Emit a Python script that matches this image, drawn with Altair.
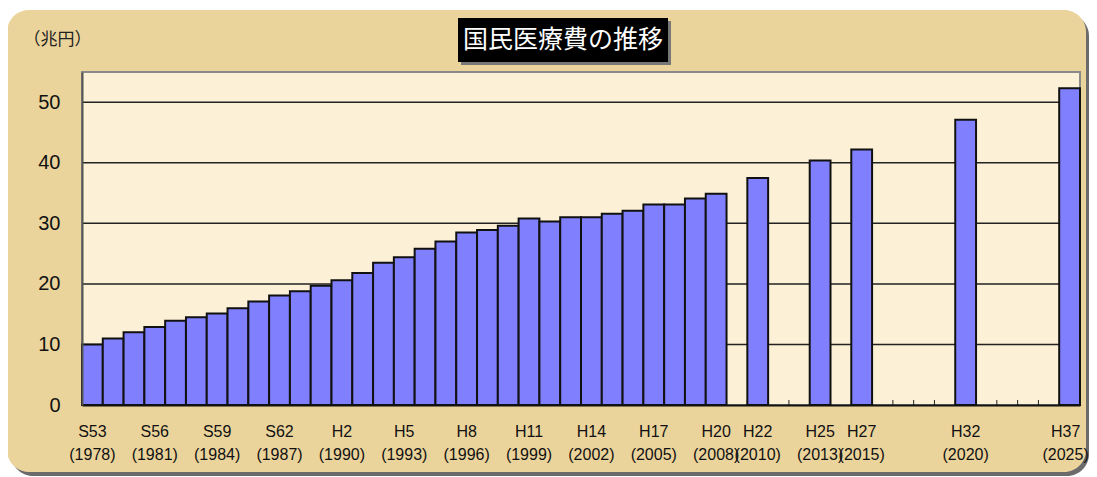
import altair as alt
import pandas as pd

# ---- data ----
years = list(range(1978, 2009)) + [2010, 2013, 2015, 2020, 2025]
values = [10.0, 11.0, 12.0, 12.9, 13.9, 14.5, 15.1, 16.0, 17.1, 18.1, 18.8,
          19.7, 20.6, 21.8, 23.5, 24.4, 25.8, 27.0, 28.5, 28.9, 29.6, 30.8,
          30.3, 31.0, 31.0, 31.6, 32.1, 33.1, 33.1, 34.1, 34.9,
          37.5, 40.4, 42.2, 47.1, 52.3]
axis_years = list(range(1978, 2026))
label_years = [1978, 1981, 1984, 1987, 1990, 1993, 1996, 1999, 2002, 2005,
               2008, 2010, 2013, 2015, 2020, 2025]
era_labels = ["S53", "S56", "S59", "S62", "H2", "H5", "H8", "H11", "H14",
              "H17", "H20", "H22", "H25", "H27", "H32", "H37"]
y_ticks = [0, 10, 20, 30, 40, 50]
grid_vals = [10, 20, 30, 40, 50]
title_text = "国民医療費の推移"
unit_text = "（兆円）"

W, H = 998, 333
df = pd.DataFrame({"year": years, "value": values})
one = pd.DataFrame({"k": [0]})

yrs_js = "[" + ",".join(str(y) for y in label_years) + "]"
eras_js = "[" + ",".join(f"'{e}'" for e in era_labels) + "]"
label_expr = (f"indexof({yrs_js}, datum.value) < 0 ? '' : "
              f"[{eras_js}[indexof({yrs_js}, datum.value)], '(' + datum.label + ')']")

xscale = alt.Scale(domain=axis_years, paddingInner=0, paddingOuter=0)
yscale = alt.Scale(domain=[0, 55], nice=False)

x_axis = alt.Axis(labelExpr=label_expr, labelAngle=0, labelOverlap=False,
                  ticks=False, domainColor="#111111", domainWidth=2,
                  labelFont="Liberation Sans", labelFontSize=16,
                  labelColor="#111111", labelLineHeight=23,
                  labelPadding=18, labelBound=False,
                  labelOffset={"condition": {"test": f"datum.value == {axis_years[-1]}",
                                             "value": -4}, "value": 0},
                  zindex=1)
y_axis = alt.Axis(values=y_ticks, grid=False, ticks=False,
                  domainColor="#555555", domainWidth=2,
                  labelFont="Liberation Sans", labelFontSize=20,
                  labelColor="#111111", labelPadding=22,
                  titleAngle=0, titleX=-59, titleY=-33,
                  titleAlign="left", titleBaseline="middle",
                  titleFont="Noto Sans CJK JP", titleFontSize=17,
                  titleFontWeight="normal", titleColor="#222222",
                  zindex=1)

# decorative background box with shadow
shadow = alt.Chart(one).mark_rect(cornerRadius=22, color="#3a3a3a", opacity=0.75).encode(
    x=alt.value(-71), x2=alt.value(1007), y=alt.value(-58), y2=alt.value(404))
box = alt.Chart(one).mark_rect(cornerRadius=22, color="#EBD49C").encode(
    x=alt.value(-75), x2=alt.value(1004), y=alt.value(-62), y2=alt.value(400))
plotbg = alt.Chart(one).mark_rect(color="#FCF1D6", stroke="#8a8a8a", strokeWidth=2).encode(
    x=alt.value(0), x2=alt.value(W), y=alt.value(0), y2=alt.value(H))

grid = alt.Chart(pd.DataFrame({"value": grid_vals})).mark_rule(color="#222222", strokeWidth=1.5).encode(
    y=alt.Y("value:Q", scale=yscale, title=unit_text, axis=y_axis),
    x=alt.value(0), x2=alt.value(W))

ticks = alt.Chart(pd.DataFrame({"year": axis_years})).mark_rule(color="#222222", strokeWidth=1).encode(
    x=alt.X("year:O", scale=xscale, bandPosition=0, title=None, axis=x_axis),
    y=alt.value(H), y2=alt.value(H - 5))

bars = alt.Chart(df).mark_bar(color="#8080FF", stroke="#111111", strokeWidth=2).encode(
    x=alt.X("year:O", scale=xscale, title=None, axis=x_axis),
    y=alt.Y("value:Q", scale=yscale, title=unit_text, axis=y_axis),
)

title_shadow = alt.Chart(one).mark_rect(color="#777777").encode(
    x=alt.value(379), x2=alt.value(589), y=alt.value(-51), y2=alt.value(-7))
title_box = alt.Chart(one).mark_rect(color="#000000").encode(
    x=alt.value(376), x2=alt.value(586), y=alt.value(-54), y2=alt.value(-10))
title = alt.Chart(one).mark_text(text=title_text, color="white", fontSize=25,
                                 font="Noto Sans CJK JP", baseline="middle",
                                 align="center").encode(
    x=alt.value(481), y=alt.value(-32))

chart = alt.layer(shadow, box, plotbg, grid, ticks, bars, title_shadow, title_box, title).properties(
    width=W, height=H,
    padding={"left": 74, "top": 64, "right": 9, "bottom": 72},
    autosize="none",
).configure_view(stroke=None).configure(background="white")

chart.save("out.html", embed_options={"renderer": "svg", "actions": False})
